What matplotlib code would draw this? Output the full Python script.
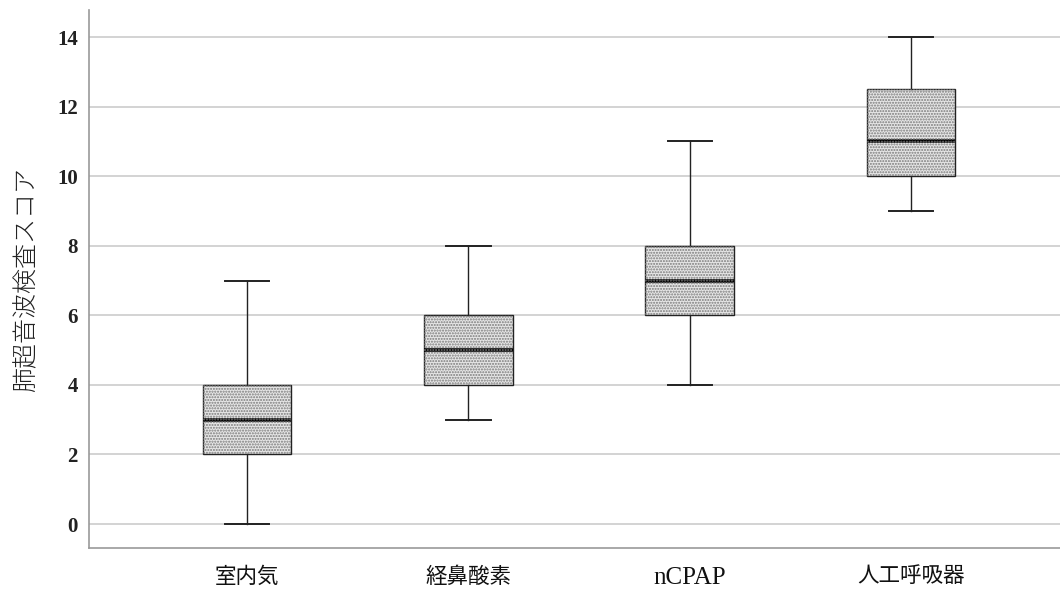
import matplotlib.pyplot as plt
from matplotlib.patches import Rectangle

categories = ['室内気', '経鼻酸素', 'nCPAP', '人工呼吸器']
whisker_low = [0, 3, 4, 9]
q1 = [2, 4, 6, 10]
median = [3, 5, 7, 11]
q3 = [4, 6, 8, 12.5]
whisker_high = [7, 8, 11, 14]
yticks = [0, 2, 4, 6, 8, 10, 12, 14]

fig = plt.figure(figsize=(10.6, 6.04), dpi=100)
ax = fig.add_axes([89 / 1060, 56 / 604, 971 / 1060, 538 / 604])

stats = []
for i, name in enumerate(categories):
    stats.append(dict(label=name, whislo=whisker_low[i], q1=q1[i], med=median[i],
                      q3=q3[i], whishi=whisker_high[i], fliers=[]))

pos = list(range(len(categories)))
w = 0.40
ax.bxp(stats, positions=pos, widths=w, patch_artist=True, showfliers=False,
       boxprops=dict(facecolor='#e6e6e6', edgecolor='#222222', linewidth=1.0),
       medianprops=dict(color='black', linewidth=2.6),
       whiskerprops=dict(color='#222222', linewidth=1.0),
       capprops=dict(color='#222222', linewidth=1.4),
       capwidths=w / 2, zorder=3)

# dotted fill like the SPSS pattern
for i in pos:
    ax.add_patch(Rectangle((i - w / 2, q1[i]), w, q3[i] - q1[i], fill=False,
                           hatch='......', edgecolor='#7a7a7a', linewidth=0, zorder=3.5))

ax.set_xlim(-0.715, 3.674)
ax.set_ylim(-0.69, 14.78)
ax.set_yticks(yticks)
ax.set_yticklabels([str(t) for t in yticks], family='Liberation Serif',
                   fontweight='bold', fontsize=15, color='#222222')
ax.set_xticks(pos)
ax.set_xticklabels(categories, family=['Liberation Serif', 'Noto Sans CJK JP'],
                   fontsize=15.5, color='#111111')
ax.get_xticklabels()[2].set_fontsize(18)
ax.tick_params(length=0, pad=8)
ax.tick_params(axis='x', pad=14)
ax.yaxis.grid(True, color='#cccccc', linewidth=1.2)
ax.set_axisbelow(True)
for s in ['top', 'right']:
    ax.spines[s].set_visible(False)
for s in ['left', 'bottom']:
    ax.spines[s].set_color('#999999')
    ax.spines[s].set_linewidth(1.2)
ax.set_ylabel('肺超音波検査スコア', family=['Noto Sans CJK JP'], fontsize=18,
              fontweight='light', color='#222222', labelpad=13)

fig.savefig('out.png')
